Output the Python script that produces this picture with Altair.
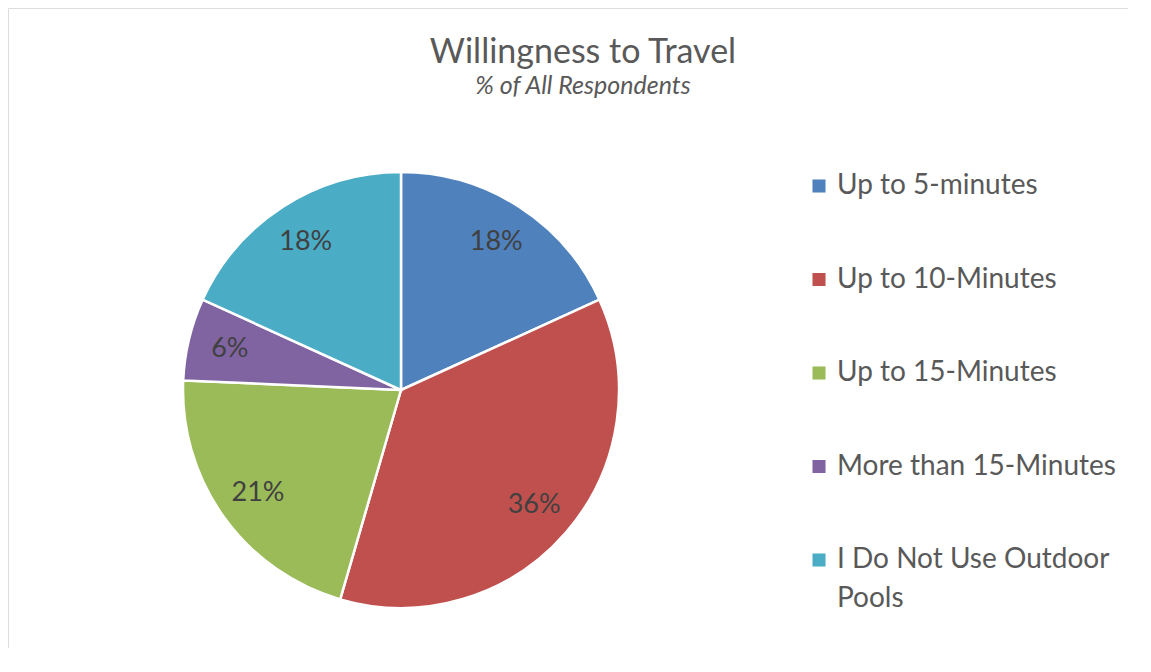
import altair as alt
import pandas as pd

categories = ["Up to 5-minutes", "Up to 10-Minutes", "Up to 15-Minutes",
              "More than 15-Minutes", "I Do Not Use Outdoor Pools"]
values = [18.2, 36.3, 21.2, 6.1, 18.2]
labels = ["18%", "36%", "21%", "6%", "18%"]
colors = ["#4F81BD", "#C0504D", "#9BBB59", "#8064A2", "#4BACC6"]

df = pd.DataFrame({"category": categories, "value": values,
                   "label": labels, "idx": list(range(len(categories)))})

W, H = 1120, 640
CX, CY = 393, 382
FONT = "Lato"

theta = alt.Theta("value:Q", stack=True)
order = alt.Order("idx:Q", sort="ascending")

arc = alt.Chart(df).mark_arc(outerRadius=218, stroke="white", strokeWidth=2.5,
                             x=CX, y=CY).encode(
    theta=theta,
    order=order,
    color=alt.Color("category:N",
                    scale=alt.Scale(domain=categories, range=colors),
                    legend=alt.Legend(
                        title=None, orient="none", legendX=797, legendY=164,
                        symbolType="square", symbolSize=170, symbolStrokeWidth=0,
                        labelFont=FONT, labelFontSize=28, labelColor="#595959",
                        labelLimit=400, labelOffset=4, rowPadding=65.5,
                        padding=0,
                        labelExpr="datum.label == 'I Do Not Use Outdoor Pools' ? ['I Do Not Use Outdoor', 'Pools'] : datum.label",
                    )),
)

txt = alt.Chart(df).mark_text(radius=176, x=CX, y=CY, font=FONT, fontSize=27,
                              color="#404040").encode(
    theta=theta,
    order=order,
    text="label:N",
)

frame = alt.Chart(alt.Data(values=[{"a": 1}])).mark_rule(color="#d9d9d9", strokeWidth=1.5)
top_rule = frame.encode(x=alt.value(-2), x2=alt.value(W - 1), y=alt.value(-2))
left_rule = frame.encode(x=alt.value(-2), y=alt.value(-2), y2=alt.value(H + 20))

chart = alt.layer(top_rule, left_rule, arc, txt).properties(
    width=W, height=H,
    autosize=alt.AutoSizeParams(type="none"),
    padding=0,
    title=alt.TitleParams(
        "Willingness to Travel", subtitle="% of All Respondents",
        font=FONT, fontSize=34, fontWeight="normal", color="#595959",
        subtitleFont=FONT, subtitleFontSize=25, subtitleFontStyle="italic",
        subtitleColor="#595959", subtitlePadding=4,
        anchor="middle", offset=-94, dx=15,
    ),
).configure_view(stroke="transparent", strokeWidth=0).configure(
    background="white",
    style={"guide-label": {"lineHeight": 39}},
)

chart.save("out.html", embed_options={"renderer": "svg", "actions": False})
